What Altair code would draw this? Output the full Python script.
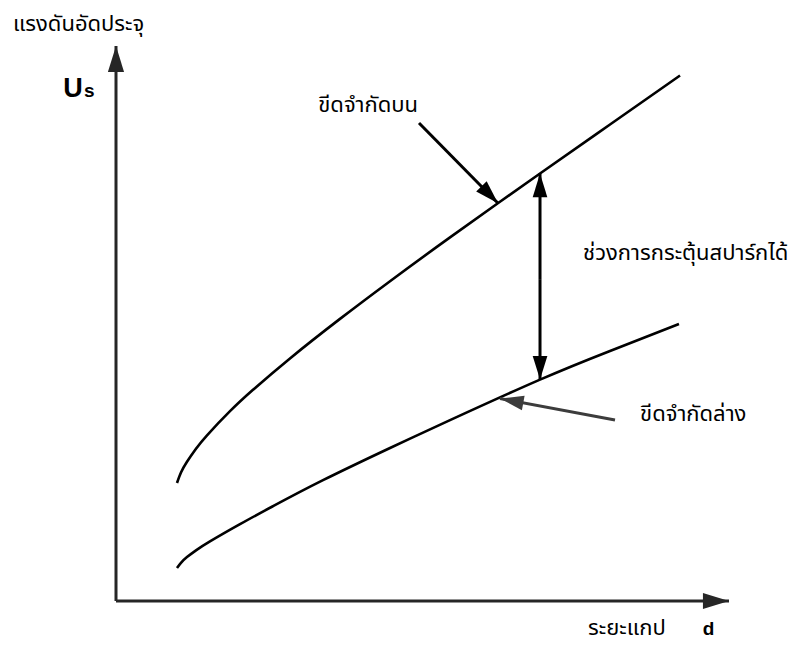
import math
import altair as alt
import pandas as pd

# Breakdown-voltage window versus gap distance (schematic)
upper_d = [0.995, 1.060, 1.158, 1.305, 1.485, 1.860, 2.235, 2.838, 3.654, 4.470, 5.449, 6.917, 8.059, 9.201]
upper_u = [2.126, 2.314, 2.508, 2.743, 2.986, 3.420, 3.805, 4.371, 5.083, 5.762, 6.551, 7.703, 8.586, 9.468]

lower_d = [0.995, 1.060, 1.158, 1.305, 1.533, 2.023, 2.561, 3.377, 4.470, 5.449, 6.917, 8.059, 9.184]
lower_u = [0.595, 0.688, 0.791, 0.913, 1.074, 1.385, 1.708, 2.177, 2.757, 3.259, 3.989, 4.506, 4.991]

# Annotation arrows: start point -> end point (arrow head at the end)
arrow_d1 = [4.943, 8.140, 6.917, 6.917]
arrow_u1 = [8.613, 3.260, 5.800, 5.800]
arrow_d2 = [6.232, 6.264, 6.917, 6.917]
arrow_u2 = [7.166, 3.647, 7.703, 3.989]

# Text annotations
label_text = ["ขีดจำกัดบน", "ช่วงการกระตุ้นสปาร์กได้", "ขีดจำกัดล่าง", "แรงดันอัดประจุ", "ระยะแกป"]
label_d = [3.30, 7.62, 8.55, -1.68, 7.70]
label_u = [8.81, 6.14, 3.24, 10.27, -0.61]

W, H = 613, 555
D_MAX, U_MAX = 10, 10
PX_D = W / D_MAX
PX_U = H / U_MAX

xs = alt.Scale(domain=[0, D_MAX], nice=False, zero=False)
ys = alt.Scale(domain=[0, U_MAX], nice=False, zero=False)

# arrow head with its tip at the origin, pointing up before rotation
HEAD = "M0,0L0.62,2L-0.62,2Z"
THAI_FONT = "Noto Sans Thai, Noto Sans, Liberation Sans, sans-serif"
LATIN_FONT = "Liberation Sans, Arial, sans-serif"


def heading(d1, u1, d2, u2):
    dx = (d2 - d1) * PX_D
    dy = -(u2 - u1) * PX_U
    return math.degrees(math.atan2(dx, -dy)) % 360


curves = pd.concat([
    pd.DataFrame({"d": upper_d, "u": upper_u, "curve": "upper"}),
    pd.DataFrame({"d": lower_d, "u": lower_u, "curve": "lower"}),
])

axes_df = pd.DataFrame({
    "d1": [0, 0], "u1": [0, 0], "d2": [0, D_MAX], "u2": [U_MAX, 0],
})
axes_df["angle"] = [heading(*r) for r in axes_df[["d1", "u1", "d2", "u2"]].values]

arrows_df = pd.DataFrame({"d1": arrow_d1, "u1": arrow_u1, "d2": arrow_d2, "u2": arrow_u2})
arrows_df["angle"] = [heading(*r) for r in arrows_df[["d1", "u1", "d2", "u2"]].values]
arrows_df["shade"] = ["black", "#3c3c3c", "black", "black"]

labels_df = pd.DataFrame({"d": label_d, "u": label_u, "text": label_text})

line_layer = alt.Chart(curves).mark_line(
    interpolate="natural", color="black", strokeWidth=2.6
).encode(
    x=alt.X("d:Q", scale=xs, axis=None),
    y=alt.Y("u:Q", scale=ys, axis=None),
    detail="curve:N",
)

axis_lines = alt.Chart(axes_df).mark_rule(color="#262626", strokeWidth=3).encode(
    x=alt.X("d1:Q", scale=xs), y=alt.Y("u1:Q", scale=ys), x2="d2:Q", y2="u2:Q"
)
axis_heads = alt.Chart(axes_df).mark_point(
    shape=HEAD, filled=True, size=680, opacity=1, color="#262626", strokeWidth=0
).encode(
    x=alt.X("d2:Q", scale=xs), y=alt.Y("u2:Q", scale=ys),
    angle=alt.Angle("angle:Q", scale=None),
)

arrow_lines = alt.Chart(arrows_df).mark_rule(strokeWidth=3).encode(
    x=alt.X("d1:Q", scale=xs), y=alt.Y("u1:Q", scale=ys), x2="d2:Q", y2="u2:Q",
    color=alt.Color("shade:N", scale=None),
)
arrow_heads = alt.Chart(arrows_df).mark_point(
    shape=HEAD, filled=True, size=560, opacity=1, strokeWidth=0
).encode(
    x=alt.X("d2:Q", scale=xs), y=alt.Y("u2:Q", scale=ys),
    angle=alt.Angle("angle:Q", scale=None),
    color=alt.Color("shade:N", scale=None),
)

labels = alt.Chart(labels_df).mark_text(
    font=THAI_FONT, fontSize=22, align="left", baseline="alphabetic", color="black"
).encode(
    x=alt.X("d:Q", scale=xs), y=alt.Y("u:Q", scale=ys), text="text:N"
)

d_label = alt.Chart(pd.DataFrame({"d": [9.57], "u": [-0.61], "t": ["d"]})).mark_text(
    font=LATIN_FONT, fontSize=19, align="left", baseline="alphabetic",
    fontWeight="bold", color="black"
).encode(x=alt.X("d:Q", scale=xs), y=alt.Y("u:Q", scale=ys), text="t:N")

u_main = alt.Chart(pd.DataFrame({"d": [-0.86], "u": [9.08], "t": ["U"]})).mark_text(
    font=LATIN_FONT, fontSize=27, align="left", baseline="alphabetic",
    fontWeight="bold", color="black"
).encode(x=alt.X("d:Q", scale=xs), y=alt.Y("u:Q", scale=ys), text="t:N")
u_sub = alt.Chart(pd.DataFrame({"d": [-0.52], "u": [9.08], "t": ["s"]})).mark_text(
    font=LATIN_FONT, fontSize=19, align="left", baseline="alphabetic",
    fontWeight="bold", color="black"
).encode(x=alt.X("d:Q", scale=xs), y=alt.Y("u:Q", scale=ys), text="t:N")

chart = alt.layer(
    line_layer, axis_lines, axis_heads, arrow_lines, arrow_heads,
    labels, d_label, u_main, u_sub
).properties(
    width=W, height=H,
    padding={"left": 116, "top": 46, "right": 73, "bottom": 52},
    autosize=alt.AutoSizeParams(type="none"),
    background="white",
).configure_view(stroke=None)

chart.save("out.html", embed_options={"renderer": "svg", "actions": False})
